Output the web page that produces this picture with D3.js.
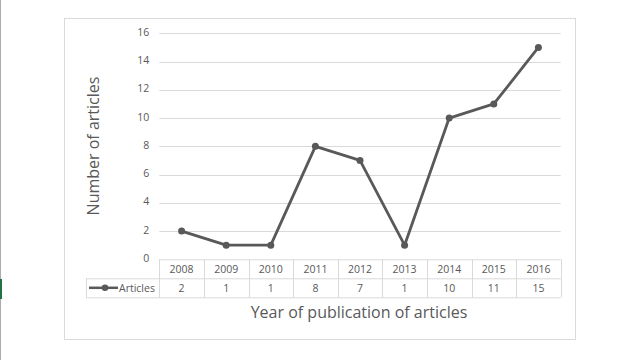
<!DOCTYPE html>
<html><head><meta charset="utf-8">
<script src="https://cdn.jsdelivr.net/npm/d3@7"></script>
<style>html,body{margin:0;padding:0;background:#fff;}svg{display:block;}</style>
</head><body>
<script>
const years = ["2008","2009","2010","2011","2012","2013","2014","2015","2016"];
const articles = [2,1,1,8,7,1,10,11,15];
const yTicks = [0,2,4,6,8,10,12,14,16];
const seriesName = "Articles";
const yTitle = "Number of articles";
const xTitle = "Year of publication of articles";

(function(){
const W = 640, H = 360;
const svg = d3.select("body").append("svg").attr("width", W).attr("height", H);
const font = "'Open Sans', 'Segoe UI', sans-serif";
const grey = "#595959", gridC = "#d9d9d9";

// page edge decorations
svg.append("line").attr("x1",0.5).attr("x2",0.5).attr("y1",0).attr("y2",H).attr("stroke","#ababab");
svg.append("rect").attr("x",0).attr("y",279).attr("width",2).attr("height",20).attr("fill","#217346");

// chart frame
svg.append("rect").attr("x",64.5).attr("y",18.5).attr("width",511).attr("height",321)
  .attr("fill","#fff").attr("stroke",gridC);

const pLeft = 159.3, pRight = 560.7, pTop = 33.3, pBottom = 259.3;
const x = d3.scaleBand().domain(years).range([pLeft,pRight]);
const y = d3.scaleLinear().domain([0,16]).range([pBottom,pTop]);

// gridlines
svg.append("g").selectAll("line").data(yTicks.filter(d=>d>0)).join("line")
  .attr("x1",pLeft).attr("x2",pRight)
  .attr("y1",d=>Math.round(y(d))+0.5).attr("y2",d=>Math.round(y(d))+0.5)
  .attr("stroke",gridC);

// y axis labels
const yAxis = d3.axisLeft(y).tickValues(yTicks).tickSize(0).tickPadding(0);
const ya = svg.append("g").attr("transform",`translate(${pLeft-10},0)`).call(yAxis);
ya.select(".domain").remove();
ya.selectAll("text").attr("font-family",font).attr("font-size","10.5px").attr("fill",grey).attr("dy","0.2em");

// data table
const rowH = 19;
const tbl = svg.append("g").attr("stroke",gridC).attr("fill","none");
tbl.append("line").attr("x1",pLeft).attr("x2",pRight).attr("y1",pBottom+0.5).attr("y2",pBottom+0.5);
tbl.append("line").attr("x1",86).attr("x2",pRight).attr("y1",pBottom+rowH+0.5).attr("y2",pBottom+rowH+0.5);
tbl.append("line").attr("x1",86).attr("x2",pRight).attr("y1",pBottom+2*rowH+0.5).attr("y2",pBottom+2*rowH+0.5);
tbl.append("line").attr("x1",86.5).attr("x2",86.5).attr("y1",pBottom+rowH).attr("y2",pBottom+2*rowH);
tbl.selectAll(".v").data(years.concat(["end"])).join("line")
  .attr("x1",(d,i)=>Math.round(pLeft+i*x.bandwidth())+0.5)
  .attr("x2",(d,i)=>Math.round(pLeft+i*x.bandwidth())+0.5)
  .attr("y1",pBottom).attr("y2",pBottom+2*rowH);

const xa = d3.axisBottom(x).tickSize(0).tickPadding(0);
const xg = svg.append("g").attr("transform",`translate(0,${pBottom})`).call(xa);
xg.select(".domain").remove();
xg.selectAll("text").attr("font-family",font).attr("font-size","10.5px").attr("fill",grey).attr("dy","1.35em");

svg.append("g").selectAll("text").data(articles).join("text")
  .attr("x",(d,i)=>x(years[i])+x.bandwidth()/2).attr("y",pBottom+rowH+14)
  .attr("text-anchor","middle").attr("font-family",font).attr("font-size","10.5px").attr("fill",grey)
  .text(d=>d);

// legend key
svg.append("line").attr("x1",89).attr("x2",118).attr("y1",pBottom+rowH+9.5).attr("y2",pBottom+rowH+9.5)
  .attr("stroke",grey).attr("stroke-width",2.5);
svg.append("circle").attr("cx",105).attr("cy",pBottom+rowH+9.5).attr("r",3.3).attr("fill",grey);
svg.append("text").attr("x",119).attr("y",pBottom+rowH+14).attr("font-family",font).attr("font-size","10.5px")
  .attr("fill",grey).text(seriesName);

// line
const line = d3.line().x((d,i)=>x(years[i])+x.bandwidth()/2).y(d=>y(d));
svg.append("path").datum(articles).attr("d",line).attr("fill","none")
  .attr("stroke",grey).attr("stroke-width",2.8).attr("stroke-linejoin","round");
svg.append("g").selectAll("circle").data(articles).join("circle")
  .attr("cx",(d,i)=>x(years[i])+x.bandwidth()/2).attr("cy",d=>y(d)).attr("r",3.5).attr("fill",grey);

// titles
svg.append("text").attr("transform","translate(99,146) rotate(-90)").attr("text-anchor","middle")
  .attr("font-family",font).attr("font-size","16px").attr("fill",grey).text(yTitle);
svg.append("text").attr("x",359).attr("y",318).attr("text-anchor","middle")
  .attr("font-family",font).attr("font-size","16px").attr("fill",grey).text(xTitle);
})();
</script>
</body></html>
